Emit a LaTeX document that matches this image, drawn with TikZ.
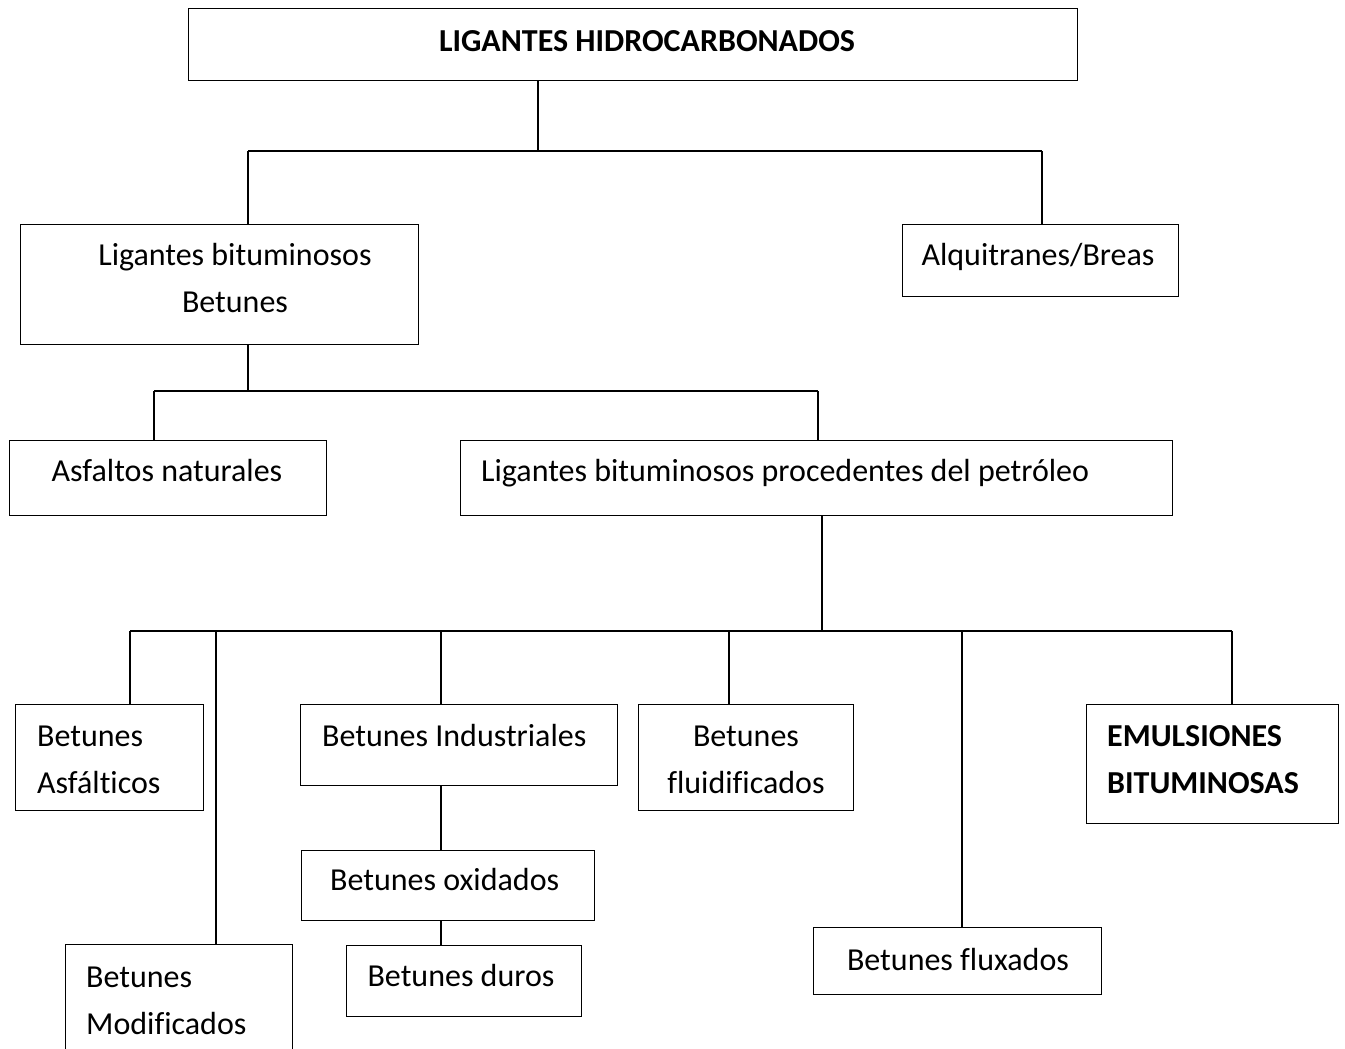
\documentclass[tikz,border=0pt]{standalone}
\usepackage{fontspec}
\setmainfont[Ligatures=CommonOff]{Carlito}
\begin{document}
\begin{tikzpicture}[x=1pt,y=-1pt,
  bx/.style={draw, line width=1.4pt, anchor=north west, inner sep=0pt},
  wire/.style={line width=2pt},
  txt/.style={font=\fontsize{32}{47}\selectfont, inner sep=0pt},
  btxt/.style={font=\fontsize{32}{47}\selectfont\bfseries, inner sep=0pt}]
\useasboundingbox (0,0) rectangle (1345,1049);
\clip (0,0) rectangle (1345,1049);
% boxes
\node[bx, minimum width=889pt, minimum height=72pt] (top) at (188,8) {};
\node[bx, minimum width=398pt, minimum height=120pt] (lig) at (20,224) {};
\node[bx, minimum width=276pt, minimum height=72pt] (alq) at (902,224) {};
\node[bx, minimum width=317pt, minimum height=75pt] (asf) at (9,440) {};
\node[bx, minimum width=712pt, minimum height=75pt] (pet) at (460,440) {};
\node[bx, minimum width=188pt, minimum height=106pt] (asfa) at (15,704) {};
\node[bx, minimum width=317pt, minimum height=81pt] (ind) at (300,704) {};
\node[bx, minimum width=227pt, minimum height=130pt] (mod) at (65,944) {};
\node[bx, minimum width=215pt, minimum height=106pt] (flu) at (638,704) {};
\node[bx, minimum width=252pt, minimum height=119pt] (emu) at (1086,704) {};
\node[bx, minimum width=288pt, minimum height=67pt] (flux) at (813,927) {};
\node[bx, minimum width=293pt, minimum height=70pt] (oxi) at (301,850) {};
\node[bx, minimum width=235pt, minimum height=71pt] (dur) at (346,945) {};
% texts (multi-line nodes: base = last line)
\node[btxt, anchor=base] (top-t) at (647,52) {LIGANTES HIDROCARBONADOS};
\node[txt, anchor=base, align=center] (lig-t) at (235,312) {Ligantes bituminosos\\Betunes};
\node[txt, anchor=base] (alq-t) at (1038,265) {Alquitranes/Breas};
\node[txt, anchor=base] (asf-t) at (167,481) {Asfaltos naturales};
\node[txt, anchor=base west] (pet-t) at (481,481) {Ligantes bituminosos procedentes del petróleo};
\node[txt, anchor=base west, align=left] (asfa-t) at (37,793) {Betunes\\Asfálticos};
\node[txt, anchor=base west] (ind-t) at (322,746) {Betunes Industriales};
\node[txt, anchor=base west, align=left] (mod-t) at (86,1034) {Betunes\\Modificados};
\node[txt, anchor=base, align=center] (flu-t) at (746,793) {Betunes\\fluidificados};
\node[btxt, anchor=base west, align=left] (emu-t) at (1107,793) {EMULSIONES\\BITUMINOSAS};
\node[txt, anchor=base] (flux-t) at (958,970) {Betunes fluxados};
\node[txt, anchor=base west] (oxi-t) at (330,890) {Betunes oxidados};
\node[txt, anchor=base] (dur-t) at (461,986) {Betunes duros};
% junctions
\coordinate (j0) at (538,151);
\coordinate (a1) at (248,151);
\coordinate (a2) at (1042,151);
\coordinate (j1) at (248,391);
\coordinate (b1) at (154,391);
\coordinate (b2) at (818,391);
\coordinate (j2) at (822,631);
\coordinate (c1) at (130,631);
\coordinate (c2) at (216,631);
\coordinate (c3) at (441,631);
\coordinate (c4) at (729,631);
\coordinate (c5) at (962,631);
\coordinate (c6) at (1232,631);
% connectors
\draw[wire] (top.south -| j0) -- (j0);
\draw[wire] (a1) -- (a2);
\draw[wire] (a1) -- (a1 |- lig.north);
\draw[wire] (a2) -- (a2 |- alq.north);
\draw[wire] (lig.south -| j1) -- (j1);
\draw[wire] (b1) -- (b2);
\draw[wire] (b1) -- (b1 |- asf.north);
\draw[wire] (b2) -- (b2 |- pet.north);
\draw[wire] (pet.south -| j2) -- (j2);
\draw[wire] (c1) -- (c6);
\draw[wire] (c1) -- (c1 |- asfa.north);
\draw[wire] (c2) -- (c2 |- mod.north);
\draw[wire] (c3) -- (c3 |- ind.north);
\draw[wire] (c4) -- (c4 |- flu.north);
\draw[wire] (c5) -- (c5 |- flux.north);
\draw[wire] (c6) -- (c6 |- emu.north);
\draw[wire] (c3 |- ind.south) -- (c3 |- oxi.north);
\draw[wire] (c3 |- oxi.south) -- (c3 |- dur.north);
\end{tikzpicture}
\end{document}
